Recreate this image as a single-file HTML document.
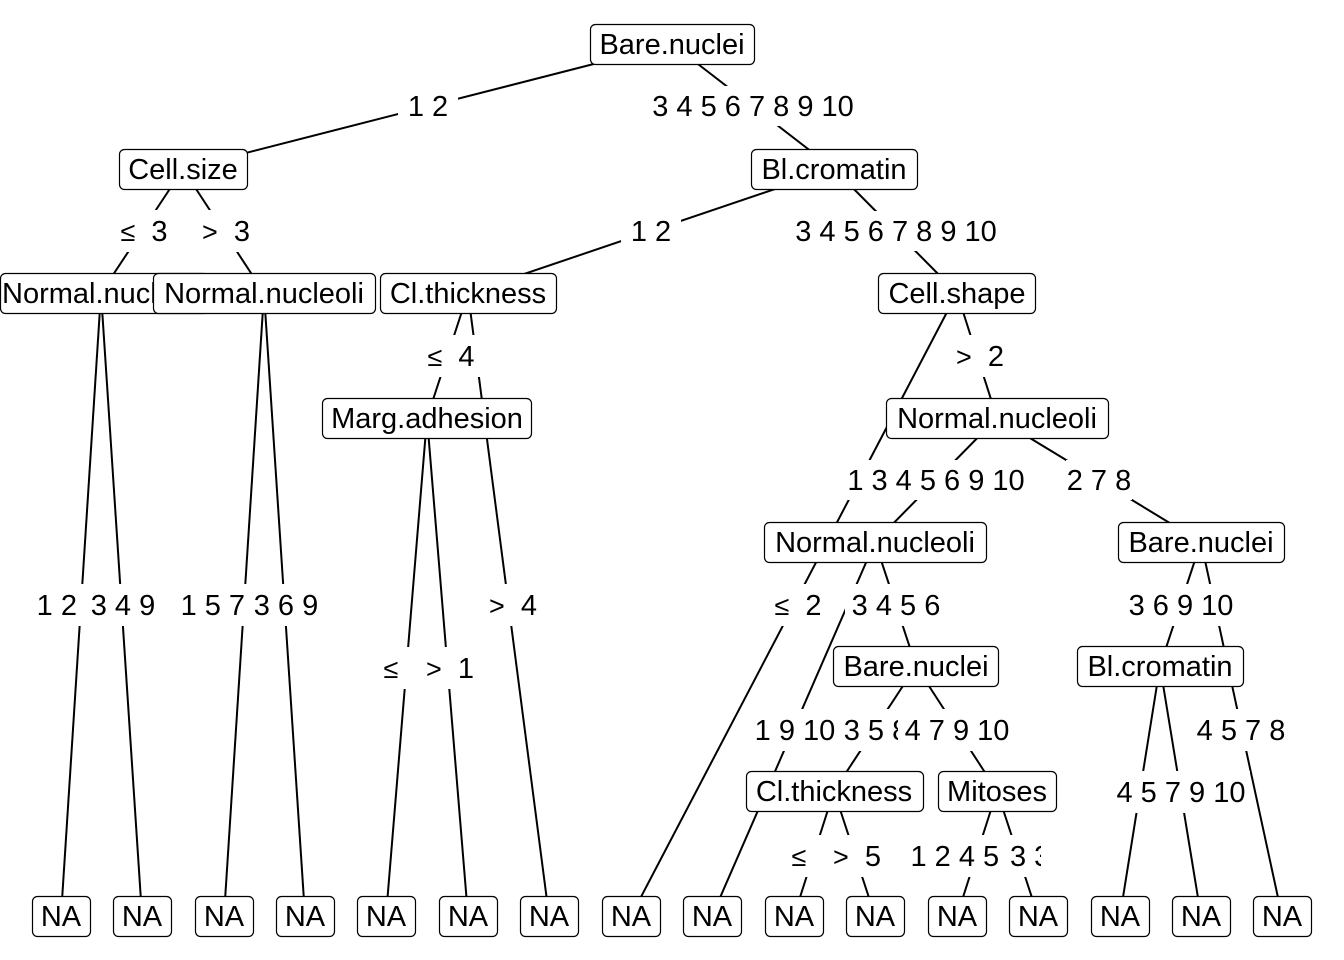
<!DOCTYPE html>
<html><head><meta charset="utf-8"><style>
html,body{margin:0;padding:0;background:#fff;}
svg{display:block;}
text{font-family:"Liberation Sans",Arial,sans-serif;font-size:29px;fill:#000;}
.s{font-size:27px;}
</style></head><body>
<svg width="1344" height="960" viewBox="0 0 1344 960" xmlns="http://www.w3.org/2000/svg">
<g stroke="#000" stroke-width="2" fill="none">
<line x1="672" y1="44" x2="183" y2="169"/>
<line x1="672" y1="44" x2="834" y2="169"/>
<line x1="183" y1="169" x2="101" y2="293"/>
<line x1="183" y1="169" x2="264" y2="293"/>
<line x1="834" y1="169" x2="468" y2="293"/>
<line x1="834" y1="169" x2="957" y2="293"/>
<line x1="101" y1="293" x2="61" y2="916"/>
<line x1="101" y1="293" x2="142" y2="916"/>
<line x1="264" y1="293" x2="224" y2="916"/>
<line x1="264" y1="293" x2="305" y2="916"/>
<line x1="468" y1="293" x2="427" y2="418"/>
<line x1="468" y1="293" x2="549" y2="916"/>
<line x1="427" y1="418" x2="386" y2="916"/>
<line x1="427" y1="418" x2="468" y2="916"/>
<line x1="957" y1="293" x2="631" y2="916"/>
<line x1="957" y1="293" x2="997" y2="418"/>
<line x1="997" y1="418" x2="875" y2="542"/>
<line x1="997" y1="418" x2="1201" y2="542"/>
<line x1="875" y1="542" x2="712" y2="916"/>
<line x1="875" y1="542" x2="916" y2="666"/>
<line x1="916" y1="666" x2="834" y2="791"/>
<line x1="916" y1="666" x2="997" y2="791"/>
<line x1="834" y1="791" x2="794" y2="916"/>
<line x1="834" y1="791" x2="875" y2="916"/>
<line x1="997" y1="791" x2="957" y2="916"/>
<line x1="997" y1="791" x2="1038" y2="916"/>
<line x1="1201" y1="542" x2="1160" y2="666"/>
<line x1="1201" y1="542" x2="1282" y2="916"/>
<line x1="1160" y1="666" x2="1120" y2="916"/>
<line x1="1160" y1="666" x2="1201" y2="916"/>
</g>
<g text-anchor="middle">
<rect x="398" y="86" width="60" height="40" fill="#fff"/><text x="428" y="116">1 2</text>
<rect x="643" y="86" width="220" height="40" fill="#fff"/><text x="753" y="116">3 4 5 6 7 8 9 10</text>
<rect x="112" y="210" width="62" height="42" fill="#fff"/><text x="144" y="241"><tspan class="s">≤</tspan>&#160;&#160;3</text>
<rect x="195" y="210" width="62" height="42" fill="#fff"/><text x="226" y="241"><tspan class="s">&gt;</tspan>&#160;&#160;3</text>
<rect x="621" y="211" width="60" height="40" fill="#fff"/><text x="651" y="241">1 2</text>
<rect x="786" y="211" width="220" height="40" fill="#fff"/><text x="896" y="241">3 4 5 6 7 8 9 10</text>
<rect x="420" y="335" width="62" height="42" fill="#fff"/><text x="451" y="366"><tspan class="s">≤</tspan>&#160;&#160;4</text>
<rect x="949" y="335" width="62" height="42" fill="#fff"/><text x="980" y="366"><tspan class="s">&gt;</tspan>&#160;&#160;2</text>
<rect x="838" y="460" width="196" height="40" fill="#fff"/><text x="936" y="490">1 3 4 5 6 9 10</text>
<rect x="1066" y="460" width="66" height="40" fill="#fff"/><text x="1099" y="490">2 7 8</text>
<rect x="30" y="584" width="102" height="42" fill="#fff"/><text x="81" y="615">1 2 5 6</text>
<rect x="82" y="584" width="80" height="42" fill="#fff"/><text x="123" y="615">3 4 9</text>
<rect x="176" y="584" width="128" height="42" fill="#fff"/><text x="237" y="615">1 5 7 2 4</text>
<rect x="247" y="584" width="76" height="42" fill="#fff"/><text x="286" y="615">3 6 9</text>
<rect x="482" y="584" width="62" height="42" fill="#fff"/><text x="513" y="615"><tspan class="s">&gt;</tspan>&#160;&#160;4</text>
<rect x="767" y="584" width="62" height="42" fill="#fff"/><text x="798" y="615"><tspan class="s">≤</tspan>&#160;&#160;2</text>
<rect x="845" y="584" width="102" height="42" fill="#fff"/><text x="896" y="615">3 4 5 6</text>
<rect x="1122" y="584" width="118" height="42" fill="#fff"/><text x="1181" y="615">3 6 9 10</text>
<rect x="376" y="647" width="62" height="42" fill="#fff"/><text x="407" y="678"><tspan class="s">≤</tspan>&#160;&#160;1</text>
<rect x="410" y="647" width="70" height="42" fill="#fff"/><text x="450" y="678"><tspan class="s">&gt;</tspan>&#160;&#160;1</text>
<rect x="752" y="709" width="86" height="42" fill="#fff"/><text x="795" y="740">1 9 10</text>
<rect x="838" y="709" width="76" height="42" fill="#fff"/><text x="876" y="740">3 5 8</text>
<rect x="898" y="709" width="118" height="42" fill="#fff"/><text x="957" y="740">4 7 9 10</text>
<rect x="1190" y="709" width="102" height="42" fill="#fff"/><text x="1241" y="740">4 5 7 8</text>
<rect x="1110" y="771" width="140" height="42" fill="#fff"/><text x="1181" y="802">4 5 7 9 10</text>
<rect x="784" y="835" width="62" height="42" fill="#fff"/><text x="815" y="866"><tspan class="s">≤</tspan>&#160;&#160;5</text>
<rect x="815" y="835" width="70" height="42" fill="#fff"/><text x="857" y="866"><tspan class="s">&gt;</tspan>&#160;&#160;5</text>
<rect x="906" y="835" width="146" height="42" fill="#fff"/><text x="979" y="866">1 2 4 5 7 8</text>
<rect x="1002" y="835" width="44" height="42" fill="#fff"/><text x="1010" y="866" text-anchor="start">3 3</text>
<rect x="1041" y="840" width="14" height="32" fill="#fff"/>
</g>
<g fill="#fff" stroke="#000" stroke-width="1.2">
<rect x="590.5" y="24.5" width="164" height="40" rx="5"/>
<rect x="119.5" y="149.5" width="128" height="40" rx="5"/>
<rect x="751.5" y="149.5" width="166" height="40" rx="5"/>
<rect x="0.5" y="273.5" width="208" height="40" rx="5"/>
</g>
<text x="2" y="303">Normal.nucleoli</text>
<g fill="#fff" stroke="#000" stroke-width="1.2">
<rect x="153.5" y="273.5" width="222" height="40" rx="5"/>
<rect x="380.5" y="273.5" width="176" height="40" rx="5"/>
<rect x="878.5" y="273.5" width="157" height="40" rx="5"/>
<rect x="322.5" y="398.5" width="209" height="40" rx="5"/>
<rect x="886.5" y="398.5" width="222" height="40" rx="5"/>
<rect x="764.5" y="522.5" width="222" height="40" rx="5"/>
<rect x="1118.5" y="522.5" width="166" height="40" rx="5"/>
<rect x="833.5" y="646.5" width="165" height="40" rx="5"/>
<rect x="1077.5" y="646.5" width="166" height="40" rx="5"/>
<rect x="746.5" y="771.5" width="177" height="40" rx="5"/>
<rect x="938.5" y="771.5" width="118" height="40" rx="5"/>
<rect x="32.5" y="896.5" width="58" height="40" rx="5"/>
<rect x="113.5" y="896.5" width="58" height="40" rx="5"/>
<rect x="195.5" y="896.5" width="58" height="40" rx="5"/>
<rect x="276.5" y="896.5" width="58" height="40" rx="5"/>
<rect x="357.5" y="896.5" width="58" height="40" rx="5"/>
<rect x="439.5" y="896.5" width="58" height="40" rx="5"/>
<rect x="520.5" y="896.5" width="58" height="40" rx="5"/>
<rect x="602.5" y="896.5" width="58" height="40" rx="5"/>
<rect x="683.5" y="896.5" width="58" height="40" rx="5"/>
<rect x="765.5" y="896.5" width="58" height="40" rx="5"/>
<rect x="846.5" y="896.5" width="58" height="40" rx="5"/>
<rect x="928.5" y="896.5" width="58" height="40" rx="5"/>
<rect x="1009.5" y="896.5" width="58" height="40" rx="5"/>
<rect x="1091.5" y="896.5" width="58" height="40" rx="5"/>
<rect x="1172.5" y="896.5" width="58" height="40" rx="5"/>
<rect x="1253.5" y="896.5" width="58" height="40" rx="5"/>
</g>
<g text-anchor="middle">
<text x="672" y="54">Bare.nuclei</text>
<text x="183" y="179">Cell.size</text>
<text x="834" y="179">Bl.cromatin</text>
<text x="264" y="303">Normal.nucleoli</text>
<text x="468" y="303">Cl.thickness</text>
<text x="957" y="303">Cell.shape</text>
<text x="427" y="428">Marg.adhesion</text>
<text x="997" y="428">Normal.nucleoli</text>
<text x="875" y="552">Normal.nucleoli</text>
<text x="1201" y="552">Bare.nuclei</text>
<text x="916" y="676">Bare.nuclei</text>
<text x="1160" y="676">Bl.cromatin</text>
<text x="834" y="801">Cl.thickness</text>
<text x="997" y="801">Mitoses</text>
<text x="61" y="926">NA</text>
<text x="142" y="926">NA</text>
<text x="224" y="926">NA</text>
<text x="305" y="926">NA</text>
<text x="386" y="926">NA</text>
<text x="468" y="926">NA</text>
<text x="549" y="926">NA</text>
<text x="631" y="926">NA</text>
<text x="712" y="926">NA</text>
<text x="794" y="926">NA</text>
<text x="875" y="926">NA</text>
<text x="957" y="926">NA</text>
<text x="1038" y="926">NA</text>
<text x="1120" y="926">NA</text>
<text x="1201" y="926">NA</text>
<text x="1282" y="926">NA</text>
</g>
</svg>
</body></html>
